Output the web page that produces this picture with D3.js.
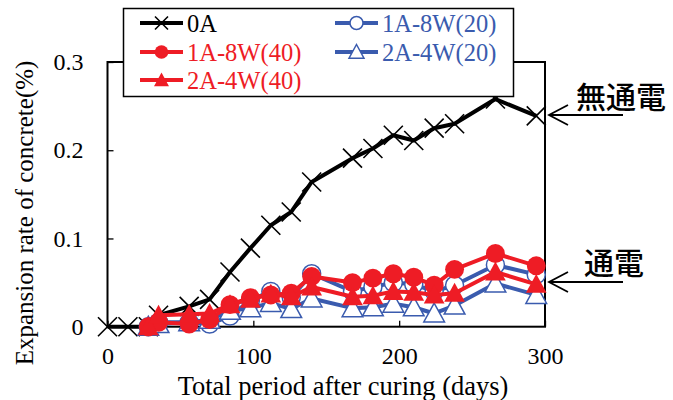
<!DOCTYPE html>
<html>
<head>
<meta charset="utf-8">
<script src="https://cdn.jsdelivr.net/npm/d3@7/dist/d3.min.js"></script>
<style>
  html, body { margin: 0; padding: 0; background: #fff; }
  svg { display: block; }
</style>
</head>
<body>
<svg id="chart" width="673" height="400"></svg>
<script>
// Expansion of concrete over time, with and without electrification
const daysBlack = [0, 14, 28, 35, 56, 70, 84, 98, 112, 126, 140, 168, 182, 196, 210, 224, 238, 266, 294];
const valuesBlack = [0, 0, 0, 0.013, 0.023, 0.031, 0.062, 0.089, 0.115, 0.130, 0.164, 0.191, 0.202, 0.217, 0.211, 0.225, 0.230, 0.258, 0.239];

const daysCurrent = [28, 35, 56, 70, 84, 98, 112, 126, 140, 168, 182, 196, 210, 224, 238, 266, 294];
const values1A8W20 = [0, 0.005, 0.005, 0.003, 0.012, 0.030, 0.040, 0.033, 0.060, 0.040, 0.045, 0.050, 0.048, 0.040, 0.047, 0.070, 0.059];
const values2A4W20 = [0, 0.003, 0.005, 0.008, 0.018, 0.021, 0.027, 0.020, 0.032, 0.021, 0.022, 0.026, 0.022, 0.015, 0.024, 0.049, 0.036];
const values1A8W40 = [0, 0.005, 0.003, 0.008, 0.025, 0.033, 0.036, 0.038, 0.057, 0.050, 0.055, 0.060, 0.056, 0.047, 0.065, 0.083, 0.069];
const values2A4W40 = [0, 0.013, 0.014, 0.015, 0.025, 0.031, 0.037, 0.034, 0.045, 0.034, 0.035, 0.040, 0.039, 0.036, 0.038, 0.062, 0.048];

const xTicks = [0, 100, 200, 300];
const yTicks = [0, 0.1, 0.2, 0.3];
const yTickLabels = ["0", "0.1", "0.2", "0.3"];

const RED = "#ee1c25";
const BLUE = "#3a5bae";

const series = [
  { name: "0A", days: daysBlack, values: valuesBlack, color: "#000", marker: "x" },
  { name: "1A-8W(20)", days: daysCurrent, values: values1A8W20, color: BLUE, marker: "circleOpen" },
  { name: "2A-4W(20)", days: daysCurrent, values: values2A4W20, color: BLUE, marker: "triOpen" },
  { name: "1A-8W(40)", days: daysCurrent, values: values1A8W40, color: RED, marker: "circle" },
  { name: "2A-4W(40)", days: daysCurrent, values: values2A4W40, color: RED, marker: "tri" }
];

const svg = d3.select("#chart");
const plotLeft = 107.5, plotRight = 545, plotTop = 62, plotBottom = 326.7;

const x = d3.scaleLinear().domain([0, 300]).range([plotLeft, plotRight]);
const y = d3.scaleLinear().domain([0, 0.3]).range([plotBottom, plotTop]);

const serif = "'Liberation Serif', 'Times New Roman', serif";

// Plot frame
svg.append("rect")
  .attr("x", plotLeft).attr("y", plotTop)
  .attr("width", plotRight - plotLeft).attr("height", plotBottom - plotTop)
  .attr("fill", "none").attr("stroke", "#000").attr("stroke-width", 2);

// Inward ticks
const xAxis = d3.axisBottom(x).tickValues(xTicks).tickSize(-6).tickFormat(d => d);
const gx = svg.append("g").attr("transform", `translate(0,${plotBottom})`).call(xAxis);
gx.select(".domain").remove();
gx.selectAll(".tick line").attr("stroke", "#000").attr("stroke-width", 1.3);
gx.selectAll(".tick text")
  .attr("y", 20).attr("dy", "0.71em")
  .style("font-family", serif).style("font-size", "24px").attr("fill", "#000");

const yAxis = d3.axisLeft(y).tickValues(yTicks).tickSize(-6).tickFormat((d, i) => yTickLabels[i]);
const gy = svg.append("g").attr("transform", `translate(${plotLeft},0)`).call(yAxis);
gy.select(".domain").remove();
gy.selectAll(".tick line").attr("stroke", "#000").attr("stroke-width", 1.3);
gy.selectAll(".tick text")
  .attr("x", -24)
  .style("font-family", serif).style("font-size", "24px").attr("fill", "#000");

// Axis titles
svg.append("text")
  .attr("x", 343).attr("y", 395)
  .attr("text-anchor", "middle")
  .style("font-family", serif).style("font-size", "26.5px")
  .text("Total period after curing (days)");

svg.append("text")
  .attr("transform", "translate(33,213) rotate(-90)")
  .attr("text-anchor", "middle")
  .style("font-family", serif).style("font-size", "25px")
  .text("Expansion rate of concrete(%)");

// Marker drawing
function drawMarker(g, type, color, size) {
  const s = size;
  if (type === "x") {
    g.append("path")
      .attr("d", `M${-s},${-s}L${s},${s}M${-s},${s}L${s},${-s}`)
      .attr("stroke", color).attr("stroke-width", 1.6).attr("fill", "none");
  } else if (type === "circle") {
    g.append("circle").attr("r", s * 1.05).attr("fill", color);
  } else if (type === "circleOpen") {
    g.append("circle").attr("r", s).attr("fill", "#fff").attr("stroke", color).attr("stroke-width", 1.5);
  } else if (type === "tri" || type === "triOpen") {
    const h = s * 2.1, w = s * 1.15;
    g.append("path")
      .attr("d", `M0,${-h * 0.55}L${w},${h * 0.45}L${-w},${h * 0.45}Z`)
      .attr("fill", type === "tri" ? color : "#fff")
      .attr("stroke", color).attr("stroke-width", type === "tri" ? 0 : 1.5);
  }
}

const line = d3.line().x(d => x(d[0])).y(d => y(d[1]));

series.forEach(s => {
  const pts = s.days.map((d, i) => [d, s.values[i]]);
  const g = svg.append("g");
  g.append("path")
    .datum(pts)
    .attr("d", line)
    .attr("fill", "none")
    .attr("stroke", s.color)
    .attr("stroke-width", 4)
    .attr("stroke-linejoin", "round");
  pts.forEach(p => {
    const mg = g.append("g").attr("transform", `translate(${x(p[0])},${y(p[1])})`);
    drawMarker(mg, s.marker, s.color, s.marker === "x" ? 9.5 : 9);
  });
});

// Legend
const legend = svg.append("g");
legend.append("rect")
  .attr("x", 123.5).attr("y", 8.5).attr("width", 390).attr("height", 88)
  .attr("fill", "#fff").attr("stroke", "#000").attr("stroke-width", 1.5);

const legendItems = [
  { s: series[0], lx: 140, ly: 23 },
  { s: series[1], lx: 335, ly: 23 },
  { s: series[3], lx: 140, ly: 52 },
  { s: series[2], lx: 335, ly: 52 },
  { s: series[4], lx: 140, ly: 80 }
];
legendItems.forEach(it => {
  const g = legend.append("g");
  g.append("line")
    .attr("x1", it.lx).attr("x2", it.lx + 43)
    .attr("y1", it.ly).attr("y2", it.ly)
    .attr("stroke", it.s.color).attr("stroke-width", 4);
  const mg = g.append("g").attr("transform", `translate(${it.lx + 21.5},${it.ly})`);
  drawMarker(mg, it.s.marker, it.s.color, 6.5);
  g.append("text")
    .attr("x", it.lx + 47).attr("y", it.ly).attr("dy", "0.35em")
    .style("font-family", serif).style("font-size", "24.5px")
    .attr("fill", it.s.color)
    .text(it.s.name);
});

// Annotations with arrows
const jp = "'Noto Sans CJK JP', 'Noto Sans', sans-serif";
function arrow(yy) {
  svg.append("path")
    .attr("d", `M623,${yy}L549,${yy}M568,${yy - 10}L549,${yy}L568,${yy + 10}`)
    .attr("fill", "none").attr("stroke", "#000").attr("stroke-width", 1.8);
}
arrow(115);
arrow(282);
svg.append("text")
  .attr("x", 576).attr("y", 97).attr("dy", "0.36em")
  .style("font-family", jp).style("font-size", "30px").style("font-weight", 500)
  .text("無通電");
svg.append("text")
  .attr("x", 584).attr("y", 263).attr("dy", "0.36em")
  .style("font-family", jp).style("font-size", "30px").style("font-weight", 500)
  .text("通電");
</script>
</body>
</html>
